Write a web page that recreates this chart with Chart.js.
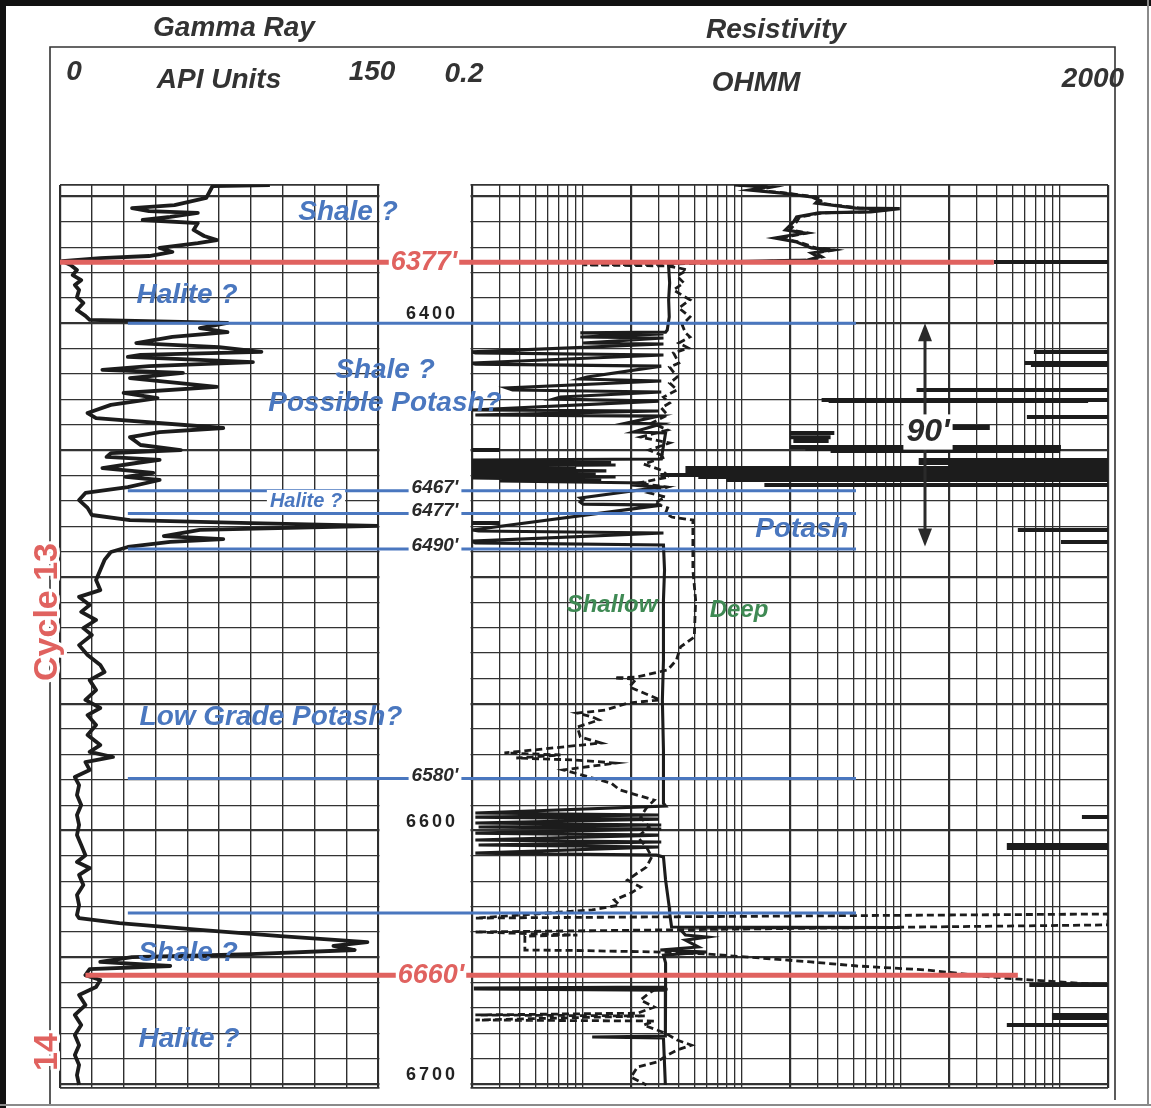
<!DOCTYPE html>
<html>
<head>
<meta charset="utf-8">
<script src="https://cdn.jsdelivr.net/npm/chart.js@4.4.0/dist/chart.umd.min.js"></script>
<style>
html,body{margin:0;padding:0;background:#fff;overflow:hidden}
canvas{display:block}
</style>
</head>
<body>
<canvas id="log" width="1151" height="1108"></canvas>
<script>
// ---------------- DATA ----------------
// Gamma ray track (API units) versus depth (ft)
const grDepth = [6345.5,6345.9,6350.6,6353.4,6354.6,6355.8,6356.5,6358.1,6359.3,6360.5,6363.2,6365.6,6367.2,6368.4,6370.3,6371.9,6373.5,6374.3,6375.5,6377.0,
6379.0,6381.0,6383.0,6384.9,6386.9,6389.7,6392.0,6394.8,6397.1,6398.7,6399.9,6401.9,6403.5,6405.4,6407.8,6409.4,6411.3,6412.5,6413.3,6415.3,
6416.9,6418.4,6419.6,6421.6,6425.1,6427.5,6429.5,6432.2,6435.4,6437.4,6441.3,6442.9,6444.9,6448.0,6450.0,6451.2,6452.7,6453.9,6455.1,6457.1,
6459.0,6460.6,6461.8,6464.6,6466.9,6469.7,6472.8,6475.6,6477.6,6478.8,6479.9,6481.5,6483.9,6485.1,6486.2,6488.2,6490.2,6493.3,6497.3,6501.2,
6505.2,6507.9,6511.1,6513.8,6517.0,6520.2,6522.9,6526.9,6530.8,6534.7,6537.5,6540.7,6544.6,6548.5,6551.7,6554.5,6558.4,6562.3,6566.3,6569.0,
6571.0,6573.0,6576.1,6578.9,6582.1,6586.0,6589.9,6593.9,6597.8,6601.8,6605.7,6609.7,6612.4,6614.8,6617.5,6621.5,6625.4,6629.4,6633.3,6634.5,
6636.5,6639.2,6641.6,6644.0,6645.5,6647.1,6648.7,6649.9,6651.8,6653.4,6654.6,6657.0,6658.9,6661.7,6664.8,6668.8,6672.7,6676.7,6680.6,6684.6,
6688.5,6692.4,6696.4,6700.3];
const grValue = [99,72,69,54,34,42,65,52,39,65,63,68,74,65,47,53,42,19,1,5,
8,6,10,7,9,8,11,8,12,14,79,66,79,53,36,75,95,38,32,91,
42,20,58,33,74,30,46,24,13,17,77,47,33,38,57,24,22,47,36,20,
44,31,47,32,12,9,13,15,33,90,150,66,49,77,52,32,24,21,19,17,
19,9,14,10,17,11,15,9,13,19,21,14,17,12,19,13,17,13,19,14,
25,12,14,7,9,8,10,8,9,8,10,12,8,14,9,11,8,9,8,9,
28,66,104,145,129,139,90,34,19,52,14,12,19,17,9,12,7,10,7,9,
7,9,8,9];

// Shallow resistivity (solid curve, ohm-m)
const shallowDepth = [6345.5,6346.3,6347.5,6348.7,6350.2,6351.4,6352.6,6354.6,6354.8,6356.1,6356.5,6358.1,6360.1,6363.2,6364.4,6366.4,6368.0,6370.3,6371.1,6372.3,
6373.9,6375.1,6376.3,6377.8,6384.1,6390.8,6397.5,6402.7,6403.5,6403.8,6404.2,6405.4,6405.8,6407.8,6408.2,6411.3,6411.7,6412.5,6415.7,6416.1,
6416.9,6421.2,6422.0,6422.8,6425.5,6426.3,6427.1,6429.1,6429.9,6430.7,6434.2,6434.6,6436.2,6436.6,6439.3,6439.7,6442.9,6443.3,6453.5,6453.9,
6454.7,6455.1,6455.9,6456.3,6457.1,6457.5,6458.2,6458.6,6459.4,6459.8,6460.6,6461.0,6461.8,6462.2,6463.0,6463.8,6464.6,6468.9,6469.7,6470.5,
6471.3,6471.7,6481.5,6481.9,6482.7,6485.9,6486.6,6487.4,6497.3,6509.1,6532.8,6548.5,6568.3,6589.2,6590.3,6593.1,6593.9,6594.7,6595.5,6597.0,
6597.8,6598.6,6599.4,6601.0,6601.8,6603.7,6604.5,6605.7,6606.5,6608.9,6609.7,6610.4,6619.5,6630.2,6632.5,6638.0,6638.2,6638.4,6641.2,6642.0,
6643.2,6645.9,6647.1,6647.9,6649.1,6652.2,6657.0,6661.7,6662.1,6662.5,6662.9,6666.8,6681.0,6681.4,6681.8,6700.3];
const shallowRes = [8.9,14.4,11.1,17.9,27.3,30.3,29.0,51.8,98,64.3,30.3,22.0,21.0,18.7,24.7,16.0,22.0,27.3,36.0,27.3,
30.3,25.8,3.43,3.45,3.5,3.45,3.48,3.38,3.3,0.96,3.2,0.96,3.2,1.0,3.2,0.2,0.21,3.2,0.2,0.21,
3.1,1.06,0.95,3.1,0.33,0.36,3.1,0.72,0.65,3.0,0.2,3.0,0.21,3.0,1.9,3.1,2.07,3.3,3.1,0.2,
1.5,0.2,1.6,0.2,0.9,0.2,1.4,0.2,1.2,0.2,1.6,0.2,1.3,0.3,2.5,2.0,3.1,0.96,1.0,0.96,
1.0,3.1,0.2,0.22,3.2,0.2,0.21,3.2,3.25,3.2,3.2,3.15,3.2,3.2,3.3,0.21,3.0,0.21,3.0,0.21,
3.1,0.22,3.1,0.21,3.0,0.21,3.1,0.22,3.0,0.21,2.9,3.2,3.3,3.48,3.5,3.6,98,4.0,4.4,6.0,
4.4,5.3,3.06,6.0,3.2,3.3,3.3,3.3,0.21,0.21,3.3,3.29,3.29,1.14,3.2,3.29];

// Deep resistivity (dashed curve, ohm-m); null = break in the trace
const deepDepth = [6345.5,6346.3,6347.5,6348.7,6350.2,6351.4,6352.6,6354.6,6355.0,6356.1,6356.5,6358.1,6360.1,6363.2,6364.4,6366.4,6368.0,6370.3,6371.1,6372.3,
6373.9,6375.1,6376.7,6377.0,6377.4,6378.2,6379.0,6381.4,6384.1,6386.9,6390.8,6394.0,6397.5,6400.7,6403.8,6405.4,6407.8,6409.8,6411.7,6415.7,
6417.3,6421.2,6423.6,6426.3,6429.1,6431.4,6433.4,6436.2,6439.3,6442.1,6444.9,6447.2,6450.0,6452.7,6455.5,6457.9,6460.6,6463.0,6464.6,6466.9,
6468.5,6470.9,6472.8,6474.8,6476.4,6477.6,6489.4,6497.3,6509.1,6523.7,6527.6,6532.8,6536.7,6539.5,6539.9,6540.3,6543.4,6548.5,6549.7,6552.5,
6553.7,6555.2,6556.4,6559.2,6563.1,6565.5,6569.4,6570.2,6571.4,6572.2,6573.4,6576.1,6581.3,6584.0,6588.0,6591.1,6594.7,6598.6,6602.6,6606.5,
6610.4,6614.4,6616.7,6619.5,6622.3,6624.6,6627.4,6629.4,6631.3,6634.5,6632.9,6637.2,6640.0,6641.2,6641.6,6647.1,6647.3,6647.9,6648.7,6649.9,
6651.8,6653.4,6655.0,6657.7,6658.9,6660.9,6661.5,6662.5,6662.9,6664.1,6666.8,6669.6,6672.0,6672.7,6673.1,6674.7,6675.1,6676.7,6679.9,6682.6,
6684.6,6686.5,6688.5,6691.3,6693.2,6697.2,6700.3];
const deepRes = [9.5,15.5,12,19,29,32,30,55,90,60,32,23,22,20,26,17,23,29,38,29,
32,27,3.5,1.0,3.4,4.0,4.5,3.9,4.3,3.7,4.7,4.0,4.7,4.2,4.4,4.7,4.0,4.6,3.7,4.0,
3.5,3.9,3.5,3.9,3.2,3.5,3.1,3.4,2.7,3.4,2.3,3.5,2.6,3.3,2.4,3.1,3.5,2.2,3.4,2.6,
3.3,2.8,3.4,3.3,3.6,4.9,4.9,4.9,5.1,5.0,4.1,3.86,3.4,2.16,1.57,2.16,1.95,3.06,1.92,1.38,
0.92,1.14,1.26,0.92,0.96,1.30,0.32,0.72,0.38,0.9,1.6,0.75,1.5,1.7,2.8,2.5,2.3,2.6,2.2,2.5,
2.7,2.5,2.2,1.9,2.3,2.0,1.57,1.69,1.14,0.21,2000,2000,0.21,0.92,0.43,0.43,0.92,3.06,6.0,11,
27,53,147,361,640,2000,null,3.4,2.8,2.6,2.3,2.8,2.2,0.21,2.46,0.21,2.8,2.4,3.3,3.9,
4.8,3.9,3.4,2.9,2.2,2.0,2.5];

// Off-scale excursions drawn as horizontal streaks (depth, from, to ohm-m)
const streakDepth = [6375.9,6411.3,6415.7,6416.5,6426.3,6430.3,6430.7,6437.0,6440.9,6441.3,6443.3,6444.9,6446.4,6448.8,6449.6,6450.4,6453.9,6455.1,6456.3,6457.1,
6457.9,6458.6,6459.8,6460.6,6461.8,6463.8,6450.0,6478.8,6481.5,6486.2,6594.7,6605.7,6606.9,6660.9,6672.7,6673.9,6676.7];
const streakFrom = [383,684,600,655,125,31.6,35,618,107,107,20,20,21,20,25,36,129,129,200,4.4,
5.5,4.4,3.06,5.3,8,13.8,0.2,0.2,542,1012,1371,462,462,640,888,888,462];
const streakTo = [2000,2000,2000,2000,2000,2000,1500,2000,361,361,38,36,35,1012,1012,1000,2000,2000,2000,2000,
2000,2000,2000,2000,2000,2000,0.3,0.3,2000,2000,2000,2000,2000,2000,2000,2000,2000];

// Grid / tick values
const grTicks = [0,15,30,45,60,75,90,105,120,135,150];
const resTicks = [0.2,0.3,0.4,0.5,0.6,0.7,0.8,0.9,1,2,3,4,5,6,7,8,9,10,20,30,40,50,60,70,80,90,100,200,300,400,500,600,700,800,900,1000,2000];
const depthTicks = [6350,6360,6370,6380,6390,6400,6410,6420,6430,6440,6450,6460,6470,6480,6490,6500,6510,6520,6530,6540,
6550,6560,6570,6580,6590,6600,6610,6620,6630,6640,6650,6660,6670,6680,6690,6700];
const depthLabels = [6400,6600,6700];

// Interpretation markers
const cycleTopDepths = [6376,6657];
const cycleTopLabels = ["6377'","6660'"];
const boundaryDepths = [6400,6466,6475,6489,6579.5,6632.5];
const boundaryLabels = ["","6467'","6477'","6490'","6580'",""];

// ---------------- CHART ----------------
const FONT = "'Liberation Sans', Arial, Helvetica, sans-serif";
const RED = '#e0625f', BLUE = '#4a77bf', GREEN = '#3f8a54', INK = '#2a2a2a', HEAD = '#333333';

const pts = (ds, vs) => ds.map((d, i) => ({x: vs[i], y: d}));
const streakPts = [];
streakDepth.forEach((d, i) => {
  streakPts.push({x: streakFrom[i], y: d}, {x: streakTo[i], y: d}, {x: null, y: null});
});

function txt(ctx, s, x, y, o) {
  ctx.save();
  ctx.font = (o.style || 'italic bold') + ' ' + o.size + 'px ' + FONT;
  ctx.textAlign = o.align || 'center';
  ctx.textBaseline = 'middle';
  if (o.spacing) { try { ctx.letterSpacing = o.spacing + 'px'; } catch (e) {} }
  if (o.rot) { ctx.translate(x, y); ctx.rotate(o.rot); x = 0; y = 0; }
  const w = ctx.measureText(s).width;
  if (o.bg) {
    ctx.fillStyle = '#fff';
    let lx = x - w / 2;
    if (ctx.textAlign === 'right') lx = x - w;
    if (ctx.textAlign === 'left') lx = x;
    ctx.fillRect(lx - o.bg, y - o.size * 0.55, w + 2 * o.bg, o.size * 1.1);
  }
  if (o.halo) {
    ctx.lineWidth = o.halo; ctx.strokeStyle = '#fff'; ctx.lineJoin = 'round';
    ctx.strokeText(s, x, y);
  }
  ctx.fillStyle = o.color || HEAD;
  ctx.fillText(s, x, y);
  ctx.restore();
}

const decor = {
  id: 'decor',
  beforeDraw(chart) {
    const ctx = chart.ctx, W = chart.width, H = chart.height;
    ctx.save();
    ctx.fillStyle = '#fff'; ctx.fillRect(0, 0, W, H);
    // outer frame
    ctx.fillStyle = '#111'; ctx.fillRect(0, 0, W, 6); ctx.fillRect(0, 0, 6, H);
    ctx.strokeStyle = '#8a8a8a'; ctx.lineWidth = 2;
    ctx.beginPath(); ctx.moveTo(0, 1105); ctx.lineTo(W, 1105); ctx.moveTo(1148, 0); ctx.lineTo(1148, 1105); ctx.stroke();
    // inner header frame
    ctx.strokeStyle = '#333'; ctx.lineWidth = 1.6;
    ctx.beginPath(); ctx.moveTo(50, 1104); ctx.lineTo(50, 47); ctx.lineTo(1115, 47); ctx.lineTo(1115, 1100); ctx.stroke();
    ctx.restore();
    // headers
    txt(ctx, 'Gamma Ray', 234, 28, {size: 28});
    txt(ctx, 'Resistivity', 776, 30, {size: 28});
    txt(ctx, '0', 74, 72, {size: 28});
    txt(ctx, 'API Units', 219, 80, {size: 28});
    txt(ctx, '150', 372, 72, {size: 28});
    txt(ctx, '0.2', 464, 74, {size: 28});
    txt(ctx, 'OHMM', 756, 83, {size: 28});
    txt(ctx, '2000', 1093, 79, {size: 28});
  },
  beforeDatasetsDraw(chart) {
    const ctx = chart.ctx, g = chart.scales.xGR, r = chart.scales.xRes, a = chart.chartArea;
    ctx.save();
    ctx.fillStyle = '#fff';
    ctx.fillRect(g.right + 1.5, a.top - 3, r.left - g.right - 3, a.bottom - a.top + 6);
    ctx.restore();
  },
  afterDatasetsDraw(chart) {
    const ctx = chart.ctx, g = chart.scales.xGR, r = chart.scales.xRes, y = chart.scales.y;
    const gapMid = (g.right + r.left) / 2;
    // depth numbers between tracks
    depthLabels.forEach(d => {
      txt(ctx, String(d), r.left - 14, y.getPixelForValue(d) - 9, {size: 18, style: 'bold', align: 'right', color: '#222', spacing: 3});
    });
    // blue boundaries
    ctx.save(); ctx.strokeStyle = BLUE; ctx.lineWidth = 3;
    boundaryDepths.forEach(d => {
      const py = y.getPixelForValue(d);
      ctx.beginPath(); ctx.moveTo(g.getPixelForValue(32), py); ctx.lineTo(r.getPixelForValue(52), py); ctx.stroke();
    });
    ctx.restore();
    boundaryDepths.forEach((d, i) => {
      if (boundaryLabels[i]) txt(ctx, boundaryLabels[i], gapMid + 10, y.getPixelForValue(d) - 3, {size: 19, color: '#2a2a2a', bg: 3});
    });
    // red cycle tops
    const redFrom = [0, 12], redTo = [383, 542];
    ctx.save(); ctx.strokeStyle = RED; ctx.lineWidth = 5;
    cycleTopDepths.forEach((d, i) => {
      const py = y.getPixelForValue(d);
      ctx.beginPath(); ctx.moveTo(g.getPixelForValue(redFrom[i]), py); ctx.lineTo(r.getPixelForValue(redTo[i]), py); ctx.stroke();
    });
    ctx.restore();
    cycleTopDepths.forEach((d, i) => {
      txt(ctx, cycleTopLabels[i], gapMid + (i ? 6 : -1), y.getPixelForValue(d), {size: 27, color: RED, bg: 2});
    });
    // interpretation labels
    const B = {size: 28, color: BLUE};
    txt(ctx, 'Shale ?', 348, 212, B);
    txt(ctx, 'Halite ?', 187, 295, B);
    txt(ctx, 'Shale ?', 385, 370, B);
    txt(ctx, 'Possible Potash?', 385, 403, B);
    txt(ctx, 'Halite ?', 306, 501, {size: 20, color: BLUE, bg: 3});
    txt(ctx, 'Potash', 802, 529, B);
    txt(ctx, 'Low Grade Potash?', 271, 717, B);
    txt(ctx, 'Shale ?', 188, 953, B);
    txt(ctx, 'Halite ?', 189, 1039, B);
    txt(ctx, 'Shallow', 612, 605, {size: 24, color: GREEN});
    txt(ctx, 'Deep', 739, 610, {size: 24, color: GREEN});
    // 90 ft arrow
    const ax = 925, ay1 = y.getPixelForValue(6400), ay2 = y.getPixelForValue(6488);
    ctx.save();
    ctx.strokeStyle = INK; ctx.fillStyle = INK; ctx.lineWidth = 3;
    ctx.beginPath(); ctx.moveTo(ax, ay1 + 12); ctx.lineTo(ax, ay2 - 12); ctx.stroke();
    ctx.beginPath(); ctx.moveTo(ax, ay1); ctx.lineTo(ax - 7, ay1 + 18); ctx.lineTo(ax + 7, ay1 + 18); ctx.closePath(); ctx.fill();
    ctx.beginPath(); ctx.moveTo(ax, ay2); ctx.lineTo(ax - 7, ay2 - 18); ctx.lineTo(ax + 7, ay2 - 18); ctx.closePath(); ctx.fill();
    ctx.restore();
    txt(ctx, "90'", 928, 432, {size: 32, color: INK, bg: 3});
    // cycle names
    txt(ctx, 'Cycle 13', 48, 612, {size: 34, style: 'bold', color: RED, rot: -Math.PI / 2, halo: 6});
    txt(ctx, '14', 48, 1052, {size: 34, style: 'bold', color: RED, rot: -Math.PI / 2, halo: 6});
  }
};

const hideX = {
  ticks: {display: false}, border: {display: false}, title: {display: false}
};

new Chart(document.getElementById('log'), {
  type: 'scatter',
  data: {
    datasets: [
      {label: 'Gamma Ray', data: pts(grDepth, grValue), xAxisID: 'xGR', yAxisID: 'y', showLine: true,
       borderColor: '#1c1c1c', borderWidth: 3.8, borderJoinStyle: 'round', pointRadius: 0, tension: 0, fill: false},
      {label: 'Shallow', data: pts(shallowDepth, shallowRes), xAxisID: 'xRes', yAxisID: 'y', showLine: true,
       borderColor: '#1c1c1c', borderWidth: 3.1, pointRadius: 0, tension: 0, fill: false},
      {label: 'Deep', data: pts(deepDepth, deepRes), xAxisID: 'xRes', yAxisID: 'y', showLine: true, spanGaps: false,
       borderColor: '#1c1c1c', borderWidth: 2.8, borderDash: [7, 4], pointRadius: 0, tension: 0, fill: false},
      {label: 'Off-scale', data: streakPts, xAxisID: 'xRes', yAxisID: 'y', showLine: true, spanGaps: false,
       borderColor: '#1c1c1c', borderWidth: 4, pointRadius: 0, tension: 0, fill: false}
    ]
  },
  options: {
    responsive: false,
    devicePixelRatio: 1,
    animation: false,
    events: [],
    layout: {padding: {left: 60, top: 185, right: 43, bottom: 20}},
    plugins: {legend: {display: false}, tooltip: {enabled: false}, title: {display: false}},
    scales: {
      xGR: Object.assign({
        type: 'linear', axis: 'x', position: 'bottom', stack: 'tracks', stackWeight: 318,
        min: 0, max: 150,
        afterBuildTicks: s => { s.ticks = grTicks.map(v => ({value: v})); },
        afterFit: s => { s.height = 0; },
        grid: {drawTicks: false, color: '#2e2e2e',
               lineWidth: c => (c.tick && (c.tick.value === 0 || c.tick.value === 150)) ? 2.2 : 1.4}
      }, hideX),
      xGap: Object.assign({
        type: 'linear', axis: 'x', position: 'bottom', stack: 'tracks', stackWeight: 94,
        min: 0, max: 1,
        afterFit: s => { s.height = 0; },
        grid: {display: false, drawTicks: false}
      }, hideX),
      xRes: Object.assign({
        type: 'logarithmic', axis: 'x', position: 'bottom', stack: 'tracks', stackWeight: 636,
        min: 0.2, max: 2000,
        afterBuildTicks: s => { s.ticks = resTicks.map(v => ({value: v})); },
        afterFit: s => { s.height = 0; },
        grid: {drawTicks: false, color: '#2e2e2e',
               lineWidth: c => {
                 if (!c.tick) return 1.3;
                 const v = c.tick.value, m = v / Math.pow(10, Math.floor(Math.log10(v) + 1e-9));
                 return (Math.abs(m - 2) < 1e-6 || v === 2000) ? 2.2 : 1.3;
               }}
      }, hideX),
      y: {
        type: 'linear', axis: 'y', position: 'left', reverse: true,
        min: 6345.5, max: 6701.5,
        afterBuildTicks: s => { s.ticks = [6345.5].concat(depthTicks, [6701.5]).map(v => ({value: v})); },
        afterFit: s => { s.width = 0; },
        ticks: {display: false}, border: {display: false},
        grid: {drawTicks: false, color: '#333',
               lineWidth: c => {
                 if (!c.tick) return 1.2;
                 const v = c.tick.value;
                 if (v === 6345.5 || v === 6701.5) return 1.8;
                 return (v % 50 === 0) ? 2.2 : 1.2;
               }}
      }
    }
  },
  plugins: [decor]
});
</script>
</body>
</html>
